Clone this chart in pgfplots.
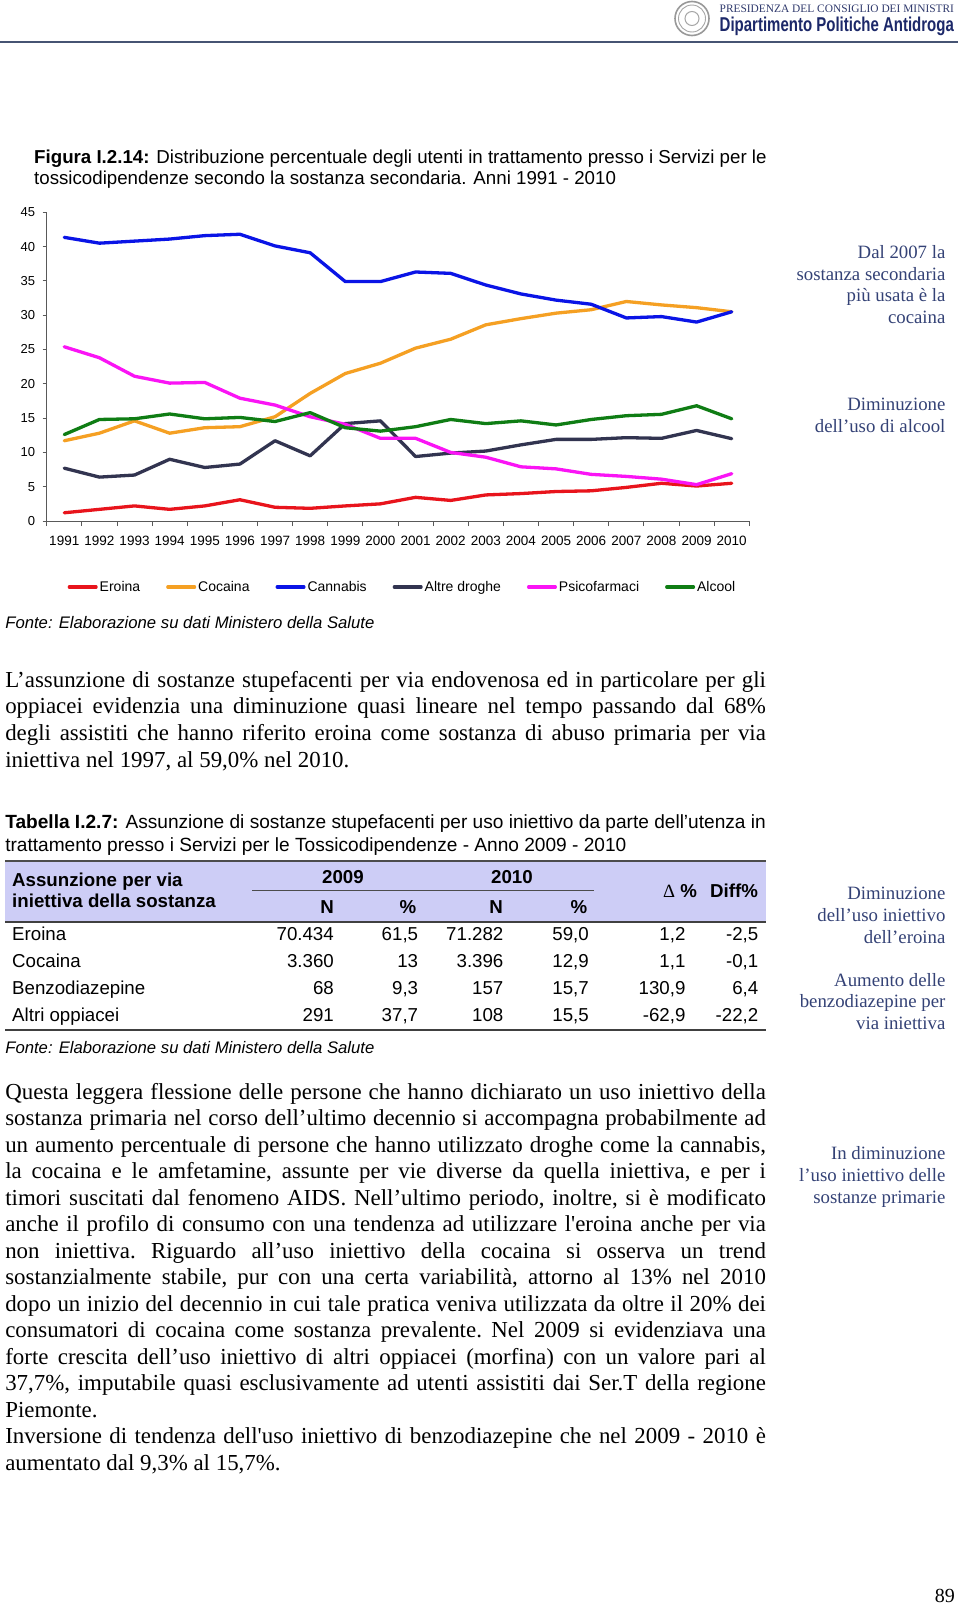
\documentclass[border=0pt]{standalone}
\usepackage{fontspec}
\usepackage{graphicx}
\usepackage{pgfplots}
\usepackage{pgfplotstable}
\pgfplotsset{compat=1.18}
\setmainfont{Liberation Serif}
\setsansfont{Liberation Sans}
\newfontfamily\rawserif[Ligatures=TeXOff]{Liberation Serif}
\definecolor{ero}{RGB}{232,20,28}
\definecolor{coc}{RGB}{245,160,35}
\definecolor{can}{RGB}{10,20,230}
\definecolor{alt}{RGB}{50,52,80}
\definecolor{psi}{RGB}{250,20,245}
\definecolor{alc}{RGB}{15,125,20}
\definecolor{sidecol}{RGB}{52,66,118}
\definecolor{rulecol}{RGB}{70,84,115}
\definecolor{lav}{RGB}{205,205,246}
\definecolor{navy}{RGB}{28,40,105}
\newcommand{\sq}{{\rawserif\fontsize{22.9}{26.7}\selectfont '}}
\newcommand{\bodyfont}{\rmfamily\fontsize{22.9}{26.7}\selectfont\frenchspacing}
\newcommand{\sidefont}{\rmfamily\fontsize{18.8}{21.6}\selectfont}
\newcommand{\capfont}{\sffamily\fontsize{18.7}{20.6}\selectfont}
\newcommand{\J}[2]{\node[anchor=base west,inner sep=0pt,font=\bodyfont] at (5.1,-#1) {\makebox[760.6pt][s]{#2}};}
\newcommand{\Nl}[2]{\node[anchor=base west,inner sep=0pt,font=\bodyfont] at (5.1,-#1) {#2};}
\newcommand{\SideN}[2]{\node[anchor=base east,inner sep=0pt,font=\sidefont,text=sidecol] at (945.6,-#1) {#2};}
\newcommand{\TR}[3]{\node[anchor=base east,inner sep=0pt,font=\capfont] at (#1,-#2) {#3};}
\newcommand{\TL}[2]{\node[anchor=base west,inner sep=0pt,font=\capfont] at (12,-#1) {#2};}
\newcommand{\TC}[3]{\node[anchor=base,inner sep=0pt,font=\capfont\bfseries] at (#1,-#2) {#3};}
\newcommand{\Row}[8]{\TL{#1}{#2}\TR{334}{#1}{#3}\TR{418.3}{#1}{#4}\TR{503.6}{#1}{#5}\TR{589}{#1}{#6}\TR{685.6}{#1}{#7}\TR{758.5}{#1}{#8}}
\pgfplotstableread{
year ero coc can alt psi alc
1991 1.2 11.7 41.35 7.7 25.4 12.6
1992 1.7 12.8 40.5 6.4 23.8 14.8
1993 2.2 14.6 40.8 6.7 21.1 14.9
1994 1.7 12.8 41.1 9.0 20.1 15.6
1995 2.2 13.6 41.6 7.8 20.2 14.9
1996 3.1 13.75 41.8 8.3 17.9 15.1
1997 2.0 15.2 40.1 11.7 16.9 14.5
1998 1.85 18.6 39.1 9.5 15.2 15.8
1999 2.2 21.5 34.9 14.2 14.1 13.6
2000 2.5 23.0 34.9 14.6 12.05 13.1
2001 3.45 25.2 36.3 9.4 12.05 13.75
2002 3.0 26.5 36.1 9.9 10.0 14.8
2003 3.8 28.6 34.4 10.2 9.3 14.2
2004 4.0 29.5 33.1 11.1 7.9 14.6
2005 4.3 30.3 32.2 11.9 7.6 14.0
2006 4.4 30.8 31.6 11.9 6.8 14.8
2007 4.9 32.0 29.6 12.15 6.5 15.35
2008 5.5 31.5 29.8 12.05 6.1 15.55
2009 5.1 31.1 29.0 13.2 5.3 16.8
2010 5.5 30.5 30.5 12.0 6.9 14.9
}\datatab
\pgfplotsset{legend image code/.code={\draw[#1,line width=3.2pt,line cap=round] (1.6pt,0pt) -- (28.4pt,0pt);}}
\begin{document}
\begin{tikzpicture}
\path[use as bounding box, fill=white] (0pt,0pt) rectangle (960pt,-1612pt);
% chart
\begin{axis}[
  at={(46.7pt,-521pt)}, anchor=south west,
  scale only axis, width=702.6pt, height=308.7pt,
  xmin=1990.5, xmax=2010.5, ymin=0, ymax=45,
  axis lines*=left,
  axis line style={draw=black!65, line width=0.9pt},
  xtick={1991,...,2010},
  minor xtick={1990.5,1991.5,...,2010.5},
  ytick={0,5,...,45},
  tick align=outside,
  major tick length=4pt, minor tick length=5pt,
  major x tick style={draw=none},
  minor x tick style={draw=black!65, line width=0.9pt},
  y tick style={draw=black!65, line width=0.9pt},
  x tick label style={/pgf/number format/1000 sep={}, /pgf/number format/assume math mode=true, font=\sffamily\fontsize{13.5}{15}\selectfont, yshift=-8pt},
  y tick label style={/pgf/number format/assume math mode=true, font=\sffamily\fontsize{13}{15}\selectfont, xshift=-4pt},
  every axis plot/.append style={line width=3.3pt, line join=round, line cap=round},
  no markers,
  legend columns=6,
  legend cell align=left,
  legend style={at={(0.5064,-0.2138)}, anchor=center, draw=none, fill=none,
    font=\sffamily\fontsize{14}{16}\selectfont,
    /tikz/every odd column/.append style={column sep=0pt},
    /tikz/every even column/.append style={column sep=24pt}},
]
\addplot[ero] table[x=year,y=ero] {\datatab}; \addlegendentry{Eroina}
\addplot[coc] table[x=year,y=coc] {\datatab}; \addlegendentry{Cocaina}
\addplot[can] table[x=year,y=can] {\datatab}; \addlegendentry{Cannabis}
\addplot[alt] table[x=year,y=alt] {\datatab}; \addlegendentry{Altre droghe}
\addplot[psi] table[x=year,y=psi] {\datatab}; \addlegendentry{Psicofarmaci}
\addplot[alc] table[x=year,y=alc] {\datatab}; \addlegendentry{Alcool}
\end{axis}
\begin{scope}[x=1pt,y=1pt]
% header
\draw[gray!80, line width=1.6pt] (692,-18.5) circle (17);
\draw[gray!70, line width=0.9pt] (692,-18.5) circle (13.5);
\draw[gray!70, line width=1pt] (692,-18.5) circle (7);
\node[anchor=base west,inner sep=0pt,font=\rmfamily\fontsize{11.4}{13}\selectfont,text=navy!80!gray] at (719.5,-12.4) {PRESIDENZA DEL CONSIGLIO DEI MINISTRI};
\node[anchor=base west,inner sep=0pt,text=navy] at (719.5,-31.6) {\scalebox{0.75}[1]{\sffamily\bfseries\fontsize{20}{22}\selectfont Dipartimento Politiche Antidroga}};
\draw[line width=2.5pt, rulecol] (0,-42) -- (958,-42);
% caption
\node[anchor=base west,inner sep=0pt,font=\capfont] at (34,-163.8) {\textbf{Figura I.2.14:} Distribuzione percentuale degli utenti in trattamento presso i Servizi per le};
\node[anchor=base west,inner sep=0pt,font=\capfont] at (34,-184.3) {tossicodipendenze secondo la sostanza secondaria. Anni 1991 - 2010};
% chart side notes
\SideN{258.4}{Dal 2007 la}
\SideN{280}{sostanza secondaria}
\SideN{301.6}{più usata è la}
\SideN{323.2}{cocaina}
\SideN{410.6}{Diminuzione}
\SideN{432.2}{dell’uso di alcool}
% fonte
\node[anchor=base west,inner sep=0pt,font=\sffamily\itshape\fontsize{16.7}{19}\selectfont] at (5.1,-628.9) {Fonte: Elaborazione su dati Ministero della Salute};
% paragraph 1
\J{687}{L’assunzione di sostanze stupefacenti per via endovenosa ed in particolare per gli}
\J{713.7}{oppiacei evidenzia una diminuzione quasi lineare nel tempo passando dal 68\%}
\J{740.4}{degli assistiti che hanno riferito eroina come sostanza di abuso primaria per via}
\Nl{767.1}{iniettiva nel 1997, al 59,0\% nel 2010.}
% table caption
\node[anchor=base west,inner sep=0pt,font=\sffamily\fontsize{19.1}{21}\selectfont] at (5.1,-828.8) {\textbf{Tabella I.2.7:} Assunzione di sostanze stupefacenti per uso iniettivo da parte dell’utenza in};
\node[anchor=base west,inner sep=0pt,font=\sffamily\fontsize{19.1}{21}\selectfont] at (5.1,-851.5) {trattamento presso i Servizi per le Tossicodipendenze - Anno 2009 - 2010};
% table
\fill[lav] (5,-861) rectangle (766,-922);
\draw[line width=1.6pt, black!70] (5,-861) -- (766,-861);
\draw[line width=1pt, black!70] (252,-890) -- (594,-890);
\draw[line width=2pt, black!75] (5,-922) -- (766,-922);
\draw[line width=2pt, black!75] (5,-1030) -- (766,-1030);
\node[anchor=base west,inner sep=0pt,font=\capfont\bfseries] at (12,-886.5) {Assunzione per via};
\node[anchor=base west,inner sep=0pt,font=\capfont\bfseries] at (12,-907.5) {iniettiva della sostanza};
\TC{343}{883.5}{2009}
\TC{512}{883.5}{2010}
\TC{327}{913.5}{N}
\TC{408}{913.5}{\%}
\TC{496}{913.5}{N}
\TC{579}{913.5}{\%}
\node[anchor=base,inner sep=0pt,font=\capfont] at (680,-897.5) {{\rmfamily Δ} \textbf{\%}};
\TC{734}{897.5}{Diff\%}
\Row{940.5}{Eroina}{70.434}{61,5}{71.282}{59,0}{1,2}{-2,5}
\Row{967.4}{Cocaina}{3.360}{13}{3.396}{12,9}{1,1}{-0,1}
\Row{994.3}{Benzodiazepine}{68}{9,3}{157}{15,7}{130,9}{6,4}
\Row{1021.2}{Altri oppiacei}{291}{37,7}{108}{15,5}{-62,9}{-22,2}
\node[anchor=base west,inner sep=0pt,font=\sffamily\itshape\fontsize{16.7}{19}\selectfont] at (5.1,-1053.4) {Fonte: Elaborazione su dati Ministero della Salute};
% table side notes
\SideN{899.6}{Diminuzione}
\SideN{921.4}{dell’uso iniettivo}
\SideN{943}{dell’eroina}
\SideN{986}{Aumento delle}
\SideN{1007.6}{benzodiazepine per}
\SideN{1029.2}{via iniettiva}
% paragraph 2
\J{1099.1}{Questa leggera flessione delle persone che hanno dichiarato un uso iniettivo della}
\J{1125.6}{sostanza primaria nel corso dell’ultimo decennio si accompagna probabilmente ad}
\J{1152.1}{un aumento percentuale di persone che hanno utilizzato droghe come la cannabis,}
\J{1178.6}{la cocaina e le amfetamine, assunte per vie diverse da quella iniettiva, e per i}
\J{1205.1}{timori suscitati dal fenomeno AIDS. Nell’ultimo periodo, inoltre, si è modificato}
\J{1231.6}{anche il profilo di consumo con una tendenza ad utilizzare l\sq eroina anche per via}
\J{1258.1}{non iniettiva. Riguardo all’uso iniettivo della cocaina si osserva un trend}
\J{1284.6}{sostanzialmente stabile, pur con una certa variabilità, attorno al 13\% nel 2010}
\J{1311.1}{dopo un inizio del decennio in cui tale pratica veniva utilizzata da oltre il 20\% dei}
\J{1337.6}{consumatori di cocaina come sostanza prevalente. Nel 2009 si evidenziava una}
\J{1364.1}{forte crescita dell’uso iniettivo di altri oppiacei (morfina) con un valore pari al}
\J{1390.6}{37,7\%, imputabile quasi esclusivamente ad utenti assistiti dai Ser.T della regione}
\Nl{1417.1}{Piemonte.}
\J{1443.6}{Inversione di tendenza dell\sq uso iniettivo di benzodiazepine che nel 2009 - 2010 è}
\Nl{1470.1}{aumentato dal 9,3\% al 15,7\%.}
\SideN{1159.6}{In diminuzione}
\SideN{1181.4}{l’uso iniettivo delle}
\SideN{1203}{sostanze primarie}
% page number
\node[anchor=base east,inner sep=0pt,font=\rmfamily\fontsize{20}{22}\selectfont] at (955,-1602) {89};
\end{scope}
\end{tikzpicture}
\end{document}
